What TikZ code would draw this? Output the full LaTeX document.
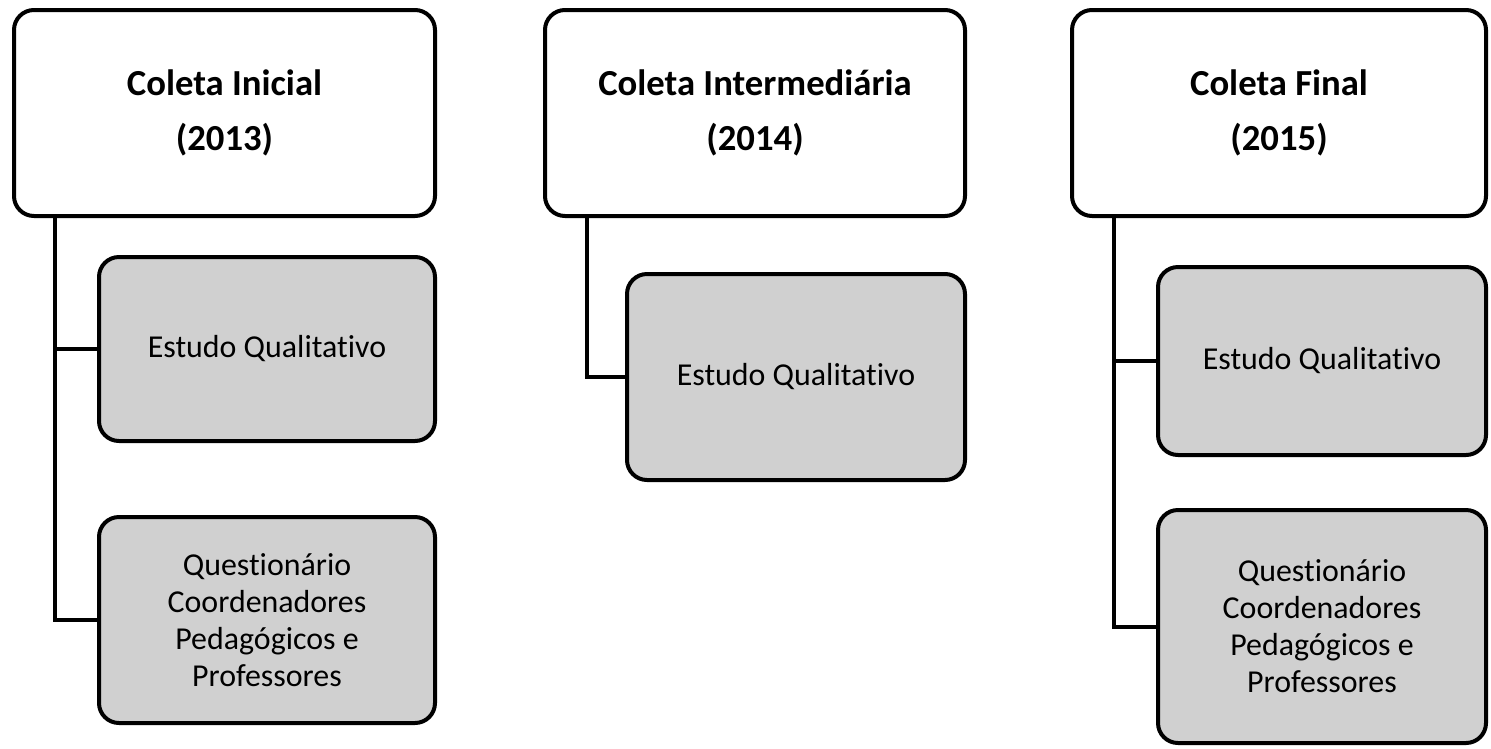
\documentclass[tikz,border=0pt]{standalone}
\usepackage{fontspec}
\setmainfont{Carlito}[Ligatures=NoCommon]
\definecolor{boxgray}{RGB}{208,208,208}
\begin{document}
\begin{tikzpicture}[x=1pt,y=-1pt,
  coleta/.style={draw,line width=4pt,rounded corners=20pt,fill=white,align=center,
    inner sep=0pt,font=\fontsize{36.7}{55}\selectfont\bfseries,minimum height=206pt},
  etapa/.style={draw,line width=4pt,rounded corners=20pt,fill=boxgray,align=center,
    inner sep=0pt,font=\fontsize{31.9}{37}\selectfont},
  ramo/.style={line width=4pt}]
\useasboundingbox (0,0) rectangle (1491,748);
\node[coleta,minimum width=421pt] (ini) at (224.5,113) {Coleta Inicial\\(2013)};
\node[coleta,minimum width=420pt] (inter) at (755,113) {Coleta Intermediária\\(2014)};
\node[coleta,minimum width=414pt] (fin) at (1279,113) {Coleta Final\\(2015)};
\node[etapa,minimum width=336pt,minimum height=184pt] (ini-est) at (267,349) {Estudo Qualitativo};
\node[etapa,minimum width=336pt,minimum height=206pt] (ini-quest) at (267,620) {Questionário\\Coordenadores\\Pedagógicos e\\Professores};
\node[etapa,minimum width=338pt,minimum height=206pt] (inter-est) at (796,377) {Estudo Qualitativo};
\node[etapa,minimum width=328pt,minimum height=188pt] (fin-est) at (1322,361) {Estudo Qualitativo};
\node[etapa,minimum width=328pt,minimum height=233pt] (fin-quest) at (1322,626.5) {Questionário\\Coordenadores\\Pedagógicos e\\Professores};
\draw[ramo] ([xshift=43pt]ini.south west) |- (ini-est.west);
\draw[ramo] ([xshift=43pt]ini.south west) |- (ini-quest.west);
\draw[ramo] ([xshift=44pt]inter.south west) |- (inter-est.west);
\draw[ramo] ([xshift=44pt]fin.south west) |- (fin-est.west);
\draw[ramo] ([xshift=44pt]fin.south west) |- (fin-quest.west);
\end{tikzpicture}
\end{document}
